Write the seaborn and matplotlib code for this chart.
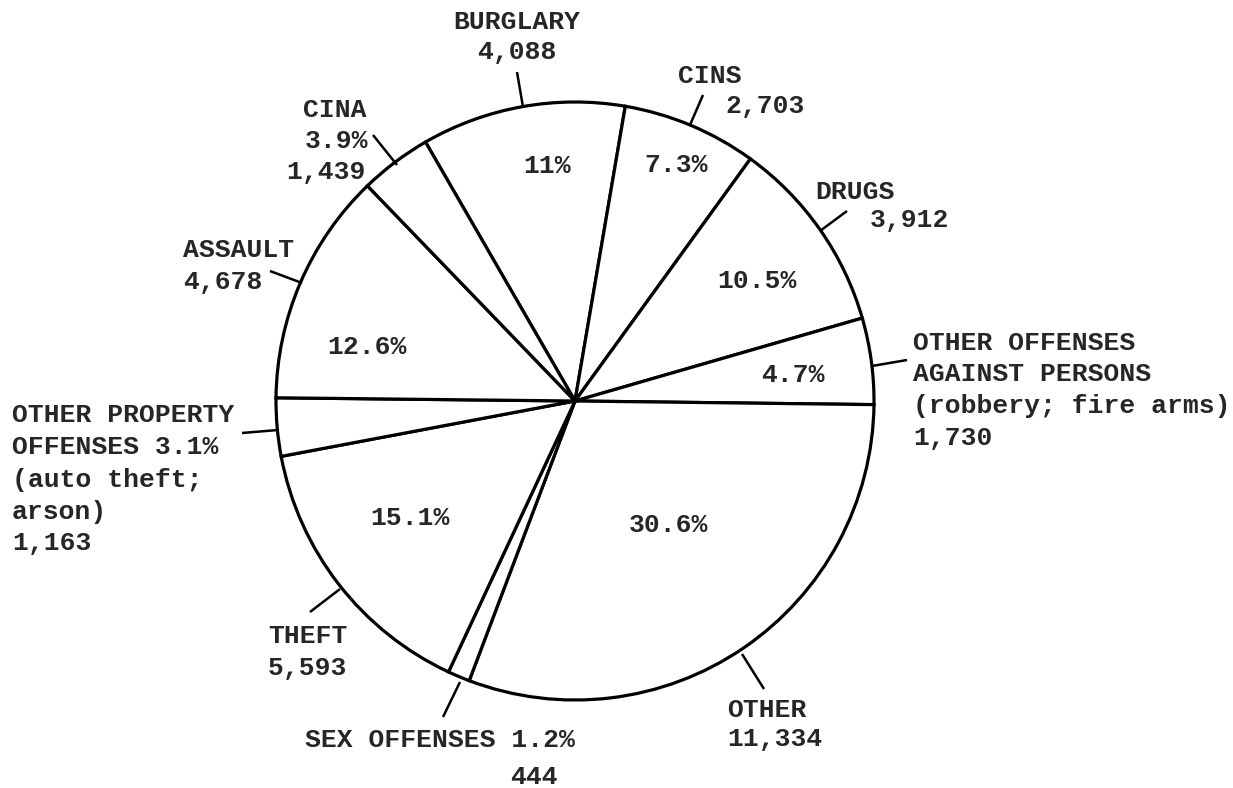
import numpy as np
import seaborn as sns
import matplotlib.pyplot as plt

# offence counts, clockwise from the top (burglary)
categories = ['BURGLARY', 'CINS', 'DRUGS', 'OTHER OFFENSES AGAINST PERSONS', 'OTHER',
              'SEX OFFENSES', 'THEFT', 'OTHER PROPERTY OFFENSES', 'ASSAULT', 'CINA']
counts = [4088, 2703, 3912, 1730, 11334, 444, 5593, 1163, 4678, 1439]
pct_labels = ['11%', '7.3%', '10.5%', '4.7%', '30.6%', '1.2%', '15.1%', '3.1%', '12.6%', '3.9%']

sns.set_style('white')
plt.rcParams['font.family'] = ['Liberation Mono', 'DejaVu Sans Mono']
plt.rcParams['font.weight'] = 'bold'
fs = 19

fig = plt.figure(figsize=(12.33, 7.88), dpi=100)
ax = fig.add_axes([0, 0, 1, 1])

# y axis runs downward (image coords), so angles are mirrored
cx, cy, r = 575, 401, 299
ax.pie(counts, startangle=-120, counterclock=True, center=(cx, cy), radius=r,
       colors=['white'] * len(counts),
       wedgeprops=dict(edgecolor='black', linewidth=2.3))
ax.set_xlim(0, 1233)
ax.set_ylim(788, 0)
ax.set_aspect('equal')
ax.axis('off')

# percentages written inside the wedges
inside = {0: (547, 166), 1: (676, 165), 2: (757, 281), 3: (793, 375),
          4: (668, 525), 6: (410, 518), 8: (367, 347)}
for i, (x, y) in inside.items():
    ax.text(x, y, pct_labels[i], fontsize=fs, ha='center', va='center')

def c(i):
    return f'{counts[i]:,}'

# outside labels: (text, x, y, ha)
outside = [
    ('BURGLARY', 517, 22, 'center'), (c(0), 517, 52, 'center'),
    ('CINS', 678, 76, 'left'), (c(1), 725, 106, 'left'),
    ('DRUGS', 815, 192, 'left'), (c(2), 870, 220, 'left'),
    ('OTHER OFFENSES', 913, 343, 'left'), ('AGAINST PERSONS', 913, 374, 'left'),
    ('(robbery; fire arms)', 913, 406, 'left'), (c(3), 913, 438, 'left'),
    ('OTHER', 727, 710, 'left'), (c(4), 727, 739, 'left'),
    ('SEX OFFENSES ' + pct_labels[5], 305, 740, 'left'), (c(5), 510, 777, 'left'),
    ('THEFT', 268, 636, 'left'), (c(6), 268, 668, 'left'),
    ('OTHER PROPERTY', 12, 415, 'left'), ('OFFENSES ' + pct_labels[7], 12, 447, 'left'),
    ('(auto theft;', 12, 480, 'left'), ('arson)', 12, 512, 'left'), (c(7), 12, 543, 'left'),
    ('ASSAULT', 183, 250, 'left'), (c(8), 183, 282, 'left'),
    ('CINA', 366, 110, 'right'), (pct_labels[9], 368, 141, 'right'), (c(9), 366, 172, 'right'),
]
for txt, x, y, ha in outside:
    ax.text(x, y, txt, fontsize=fs, ha=ha, va='center')

# short leader strokes from the labels to the rim
leaders = [
    ((517, 72), (523, 107)),
    ((703, 95), (690, 125)),
    ((847, 211), (820, 231)),
    ((907, 360), (872, 366)),
    ((742, 654), (764, 689)),
    ((443, 717), (460, 682)),
    ((310, 612), (340, 589)),
    ((242, 433), (278, 430)),
    ((270, 271), (302, 283)),
    ((373, 135), (397, 165)),
]
for (x1, y1), (x2, y2) in leaders:
    ax.plot([x1, x2], [y1, y2], color='black', lw=1.8, solid_capstyle='butt')

fig.savefig('out.png', dpi=100, facecolor='white')
